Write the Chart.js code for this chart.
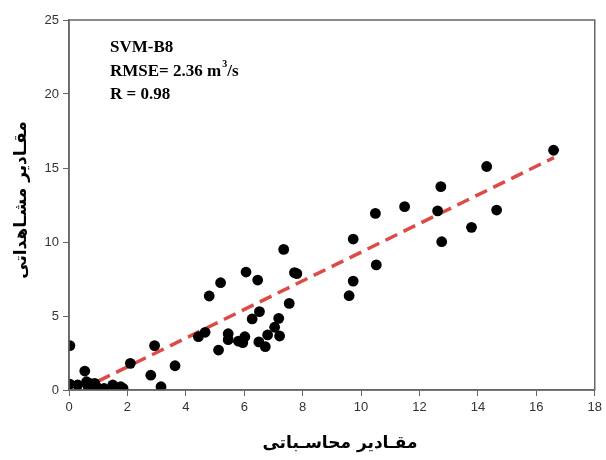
<!DOCTYPE html>
<html>
<head>
<meta charset="utf-8">
<script src="https://cdn.jsdelivr.net/npm/chart.js@4/dist/chart.umd.min.js"></script>
<style>
html,body{margin:0;padding:0;background:#fff;}
#wrap{width:606px;height:460px;position:relative;}
</style>
</head>
<body>
<div id="wrap"><canvas id="c" width="606" height="460"></canvas></div>
<script>
// Computed (x) and observed (y) values
const calcValues = [0.03,0.03,0.3,0.54,0.6,0.66,0.71,0.88,0.94,1.2,1.5,1.77,1.85,2.1,2.8,2.93,3.15,3.63,
  4.43,4.66,4.8,5.12,5.19,5.45,5.45,5.8,5.95,6.02,6.06,6.27,6.46,6.5,6.52,6.72,6.8,7.04,7.18,7.21,7.35,7.54,7.72,7.8,
  9.59,9.73,9.73,10.49,10.52,11.49,12.62,12.73,12.76,13.78,14.3,14.64,16.59];
const obsValues = [3.0,0.4,0.34,1.28,0.56,0.22,0.45,0.45,0.22,0.1,0.34,0.22,0.11,1.8,1.0,3.0,0.22,1.64,
  3.6,3.9,6.35,2.7,7.25,3.8,3.4,3.3,3.2,3.6,7.97,4.8,7.43,3.25,5.3,2.93,3.72,4.24,4.84,3.65,9.5,5.85,7.93,7.86,
  6.37,7.36,10.2,11.93,8.45,12.39,12.1,13.74,10.02,10.99,15.1,12.16,16.2];
const trendX = [1.0, 16.6];
const trendY = [0.6, 15.7];
const xTicks = [0,2,4,6,8,10,12,14,16,18];
const yTicks = [0,5,10,15,20,25];
const annotationLines = ["SVM-B8", "RMSE= 2.36 m", "R = 0.98"];
const xTitle = "مقـادیر محاسـباتی";
const yTitle = "مقـادیر مشـاهداتی";

const scatterData = calcValues.map((v,i)=>({x:v, y:obsValues[i]}));
const lineData = trendX.map((v,i)=>({x:v, y:trendY[i]}));

const framePlugin = {
  id:'frame',
  afterDraw(chart){
    const {ctx, chartArea:a} = chart;
    ctx.save();
    ctx.strokeStyle = '#666';
    ctx.lineWidth = 1.5;
    ctx.strokeRect(a.left, a.top, a.right-a.left, a.bottom-a.top);
    // annotation
    ctx.fillStyle = '#000';
    ctx.font = 'bold 17px "Liberation Serif"';
    ctx.textBaseline = 'middle';
    ctx.textAlign = 'left';
    const tx = 110;
    ctx.fillText(annotationLines[0], tx, 48);
    ctx.fillText(annotationLines[1], tx, 72);
    const w = ctx.measureText(annotationLines[1]).width;
    ctx.font = 'bold 10px "Liberation Serif"';
    ctx.fillText('3', tx + w + 1, 64);
    const w3 = ctx.measureText('3').width;
    ctx.font = 'bold 17px "Liberation Serif"';
    ctx.fillText('/s', tx + w + 1 + w3, 72);
    ctx.fillText(annotationLines[2], tx, 95);
    // axis titles
    ctx.font = 'bold 17px "DejaVu Sans"';
    ctx.textAlign = 'center';
    ctx.fillText(xTitle, 340, 444);
    ctx.translate(22, 200);
    ctx.rotate(-Math.PI/2);
    ctx.fillText(yTitle, 0, 0);
    ctx.restore();
  }
};

new Chart(document.getElementById('c'), {
  type:'scatter',
  data:{
    datasets:[
      {type:'line', data:lineData, borderColor:'rgb(220,75,70)', borderWidth:3.5, borderDash:[13,7],
        pointRadius:0, fill:false, order:2},
      {data:scatterData, backgroundColor:'#000', borderColor:'#000', borderWidth:0, pointRadius:5.4, pointHoverRadius:5.4, order:1}
    ]
  },
  options:{
    responsive:false,
    animation:false,
    layout:{padding:{left:0,right:8,top:20,bottom:0}},
    plugins:{legend:{display:false}, tooltip:{enabled:false}},
    scales:{
      x:{
        type:'linear', min:0, max:18,
        afterBuildTicks(s){ s.ticks = xTicks.map(v=>({value:v})); },
        afterFit(s){ s.height = 70; },
        grid:{drawOnChartArea:false, drawTicks:true, tickLength:6, color:'#666'},
        border:{color:'#666', width:1.5},
        ticks:{color:'#333', font:{family:'"Liberation Sans"', size:13}, padding:4, maxRotation:0}
      },
      y:{
        type:'linear', min:0, max:25,
        afterBuildTicks(s){ s.ticks = yTicks.map(v=>({value:v})); },
        afterFit(s){ s.width = 69; },
        grid:{drawOnChartArea:false, drawTicks:true, tickLength:6, color:'#666'},
        border:{color:'#666', width:1.5},
        ticks:{color:'#333', font:{family:'"Liberation Sans"', size:13}, padding:4}
      }
    }
  },
  plugins:[framePlugin]
});
</script>
</body>
</html>
